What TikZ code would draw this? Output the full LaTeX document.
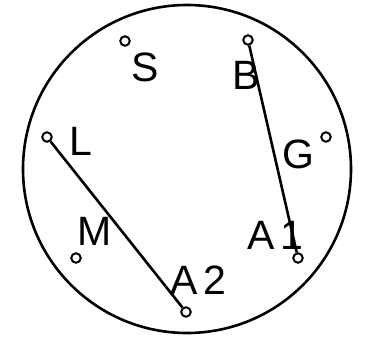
\documentclass[tikz,border=0pt]{standalone}
\usepackage{fontspec}
\newfontfamily\plotfont[LetterSpace=14]{Liberation Sans}
\usetikzlibrary{positioning}

\begin{document}
\begin{tikzpicture}[x=1pt, y=-1pt, line width=2.6pt,
  pin/.style={draw, circle, inner sep=0pt, minimum size=9.5pt, line width=2pt},
  lbl/.style={inner sep=0pt, font=\plotfont\fontsize{41}{41}\selectfont}]

  \useasboundingbox (0,0) rectangle (384,340);

  % outer ring
  \draw (187,169) circle (164);

  % pins
  \node[pin] (pS)  at (125,41)  {};
  \node[pin] (pB)  at (248,40)  {};
  \node[pin] (pL)  at (47,137)  {};
  \node[pin] (pG)  at (326,137) {};
  \node[pin] (pM)  at (76,258)  {};
  \node[pin] (pA2) at (186,312) {};
  \node[pin] (pA1) at (298,258) {};

  % labels
  \node[lbl] (S)  at (145,67)  {S};
  \node[lbl] (B)  at (246,75)  {B};
  \node[lbl] (L)  at (81,141)  {L};
  \node[lbl] (G)  at (298,154) {G};
  \node[lbl] (M)  at (95,231)  {M};
  \node[lbl] (A1) at (275,235) {A1};
  \node[lbl] (A2) at (198,280) {A2};

  % links
  \draw (pL) -- (pA2);
  \draw (pB) -- (pA1);

\end{tikzpicture}
\end{document}
